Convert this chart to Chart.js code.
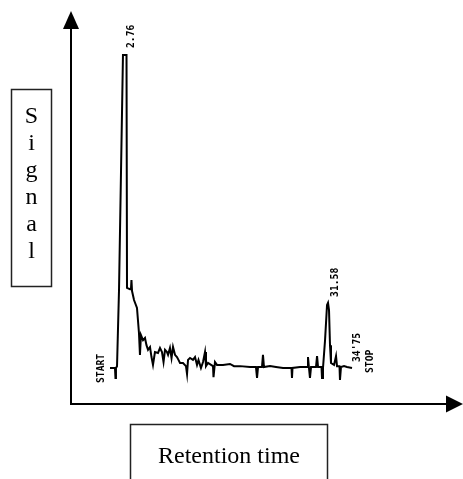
<!DOCTYPE html>
<html>
<head>
<meta charset="utf-8">
<script src="https://cdn.jsdelivr.net/npm/chart.js@4.4.1/dist/chart.umd.min.js"></script>
<style>
  body { margin: 0; background: #fff; }
  canvas { display: block; }
</style>
</head>
<body>
<canvas id="myChart" width="463" height="479"></canvas>
<script>
// retention time (min) and detector signal (arbitrary units, 100 = off scale)
const times = [0.78, 1.48, 1.55, 1.62, 1.77, 2.05, 2.61, 3.11, 3.18, 3.60, 3.74, 3.81, 3.89, 4.17, 4.59, 4.87, 5.01, 5.15, 5.44, 5.72,
  5.93, 6.15, 6.43, 6.64, 6.85, 7.13, 7.56, 7.84, 8.12, 8.34, 8.55, 8.83, 8.98, 9.25, 9.47, 9.68, 9.96, 10.24, 10.45, 10.67,
  11.09, 11.51, 11.66, 11.80, 12.08, 12.50, 12.79, 13.07, 13.28, 13.63, 13.92, 14.20, 14.34, 14.62, 15.33, 15.40, 15.61, 15.89, 16.74, 17.73,
  18.30, 19.15, 20.56, 21.40, 21.55, 21.69, 22.25, 22.39, 22.53, 23.38, 24.23, 25.22, 26.42, 26.49, 26.56, 27.62, 28.61, 28.75, 28.89, 29.03,
  29.18, 29.88, 30.03, 30.17, 30.66, 30.73, 30.87, 31.16, 31.44, 31.58, 31.72, 31.86, 32.00, 32.43, 32.71, 32.85, 33.20, 33.27, 33.41, 33.84,
  34.26, 34.97];
const signal = [0, 0, -3.2, 0, 0.6, 24.9, 100, 100, 25.6, 25.2, 25.2, 28.1, 24.6, 21.7, 19.2, 11.2, 4.2, 10.5, 8.9, 9.6,
  7.3, 5.8, 6.7, 3.5, 1.0, 5.1, 4.8, 6.4, 5.1, 1.9, 5.8, 5.1, 4.2, 6.4, 3.2, 6.7, 4.2, 3.5, 2.6, 1.6,
  1.6, 0.6, -1.9, 2.6, 3.2, 2.6, 3.5, 1.0, 2.6, 0, 1.9, 5.1, 0.6, 1.6, 0.6, -2.9, 1.9, 1.0, 1.0, 1.3,
  0.6, 0.6, 0.3, 0.3, -3.2, 0.3, 0.3, 4.2, 0.3, 0.6, 0.3, 0, 0, -3.2, 0, 0.3, 0.3, 3.5, 0, -3.2,
  0.3, 0.3, 3.8, 0.3, 0.3, -3.2, 0, 8.9, 20.1, 20.8, 18.5, 7.3, 1.6, 1.0, 3.8, 0.6, 0.6, -3.8, 0.3, 0.6,
  0.3, 0];

// integrator annotations: text, time, signal
const markTexts = ['2.76', '31.58', "34'75", 'STOP', 'START'];
const markTimes = [2.76, 31.58, 34.75, 34.75, 0];
const markLevels = [100, 20.8, 0, 0, 0];

const yTitle = 'Signal';
const xTitle = 'Retention time';

const points = times.map((t, i) => ({ x: t, y: signal[i] }));

// offsets of the rotated annotation text from its anchor point
const markDx = [7, 7, 6.5, 19.5, -3];
const markDy = [-7, -6, -6, 5, 15];

const drawExtras = {
  id: 'drawExtras',
  afterDraw(chart) {
    const ctx = chart.ctx;
    const area = chart.chartArea;
    const xs = chart.scales.x;
    const ys = chart.scales.y;
    ctx.save();

    // axes with arrow heads
    ctx.strokeStyle = '#000';
    ctx.fillStyle = '#000';
    ctx.lineWidth = 2;
    ctx.beginPath();
    ctx.moveTo(area.left, area.top + 16);
    ctx.lineTo(area.left, area.bottom);
    ctx.lineTo(area.right - 16, area.bottom);
    ctx.stroke();
    ctx.beginPath();
    ctx.moveTo(area.left, area.top + 1);
    ctx.lineTo(area.left - 8, area.top + 19);
    ctx.lineTo(area.left + 8, area.top + 19);
    ctx.closePath();
    ctx.fill();
    ctx.beginPath();
    ctx.moveTo(area.right, area.bottom);
    ctx.lineTo(area.right - 17, area.bottom - 8.5);
    ctx.lineTo(area.right - 17, area.bottom + 8.5);
    ctx.closePath();
    ctx.fill();

    // peak annotations
    ctx.font = 'bold 11px "DejaVu Sans Mono"';
    ctx.textAlign = 'left';
    ctx.textBaseline = 'middle';
    markTexts.forEach((txt, i) => {
      const px = xs.getPixelForValue(markTimes[i]) + markDx[i];
      const py = ys.getPixelForValue(markLevels[i]) + markDy[i];
      ctx.save();
      ctx.translate(px, py);
      ctx.rotate(-Math.PI / 2);
      ctx.scale(0.88, 1);
      ctx.fillText(txt, 0, 0);
      ctx.restore();
    });

    // boxed axis titles
    ctx.strokeStyle = '#222';
    ctx.lineWidth = 1.5;
    ctx.strokeRect(11.5, 89.5, 40, 197);
    ctx.strokeRect(130.5, 424.5, 197, 70);
    ctx.font = '24px "Liberation Serif"';
    ctx.textAlign = 'center';
    ctx.textBaseline = 'alphabetic';
    yTitle.split('').forEach((ch, i) => {
      ctx.fillText(ch, 31.5, 123 + i * 27);
    });
    ctx.fillText(xTitle, 229, 463);
    ctx.restore();
  }
};

new Chart(document.getElementById('myChart'), {
  type: 'line',
  data: {
    datasets: [{
      data: points,
      borderColor: '#000',
      borderWidth: 2,
      pointRadius: 0,
      tension: 0,
      fill: false
    }]
  },
  options: {
    responsive: false,
    animation: false,
    devicePixelRatio: 1,
    layout: { padding: { left: 71, right: 0, top: 10, bottom: 75 } },
    plugins: { legend: { display: false }, tooltip: { enabled: false } },
    scales: {
      x: { type: 'linear', min: -4.733, max: 50.65, display: false },
      y: { type: 'linear', min: -11.5, max: 114.38, display: false }
    }
  },
  plugins: [drawExtras]
});
</script>
</body>
</html>
